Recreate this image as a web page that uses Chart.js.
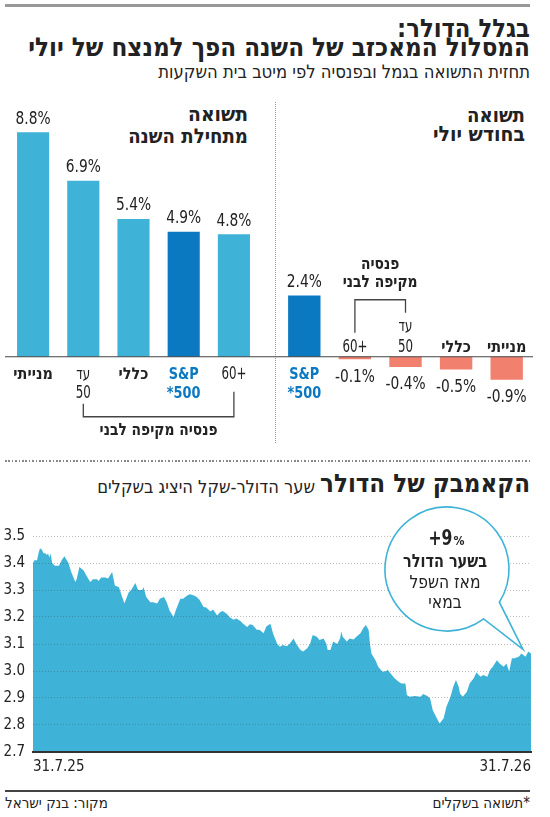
<!DOCTYPE html>
<html lang="he">
<head>
<meta charset="UTF-8">
<script src="https://cdn.jsdelivr.net/npm/chart.js"></script>
<title>בגלל הדולר</title>
<style>
  body { margin: 0; width: 550px; height: 817px; position: relative; overflow: hidden; background: #fff; color: #222;
         font-family: "DejaVu Sans Condensed", "DejaVu Sans", sans-serif; }
  .t { position: absolute; direction: rtl; white-space: nowrap; line-height: 1; }
  .b { font-weight: bold; }
  .rule { position: absolute; }
  canvas { position: absolute; }
</style>
</head>
<body>
  <div class="rule" style="left:5px; top:4px; width:525px; height:2.5px; background:#999"></div>
  <div class="t b" style="right:20px; font-size:26px" data-w="133" data-base="37">בגלל הדולר:</div>
  <div class="t b" style="right:20px; font-size:26px" data-w="502" data-base="57">המסלול המאכזב של השנה הפך למנצח של יולי</div>
  <div class="t" style="right:20px; font-size:18px" data-w="372" data-base="78">תחזית התשואה בגמל ובפנסיה לפי מיטב בית השקעות</div>

  <div class="t b" style="right:302px; font-size:18px" data-w="60" data-base="122">תשואה</div>
  <div class="t b" style="right:302px; font-size:18px" data-w="120" data-base="143">מתחילת השנה</div>
  <div class="t b" style="right:25px; font-size:18px" data-w="58" data-base="122">תשואה</div>
  <div class="t b" style="right:25px; font-size:18px" data-w="92" data-base="142">בחודש יולי</div>
  <div class="rule" style="left:275px; top:102px; width:1px; height:341px; background:repeating-linear-gradient(to bottom, #999 0 1px, transparent 1px 2px)"></div>

  <canvas id="ytd" width="272" height="357" style="left:5px; top:89px"></canvas>
  <canvas id="july" width="256" height="357" style="left:277px; top:89px"></canvas>

  <div class="rule" style="left:5px; top:460px; width:525px; height:2px; background:repeating-linear-gradient(to right, #888 0 1.6px, transparent 1.6px 3.4px)"></div>
  <div class="t b" style="right:20px; font-size:25px" data-w="210" data-base="493">הקאמבק של הדולר</div>
  <div class="t" style="right:235px; font-size:18px" data-w="218" data-base="493">שער הדולר-שקל היציג בשקלים</div>

  <canvas id="usd" width="545" height="290" style="left:0; top:500px"></canvas>

  <div class="rule" style="left:5px; top:790px; width:525px; height:1.5px; background:#444"></div>
  <div class="t" style="right:20px; font-size:15px" data-base="809">*תשואה בשקלים</div>
  <div class="t" style="left:5px; font-size:15px" data-base="809">מקור: בנק ישראל</div>

<script>
  const ytdCats = [['מנייתי'], ['עד', '50'], ['כללי'], ['S&P', '*500'], ['60+']];
  const ytdValues = [8.8, 6.9, 5.4, 4.9, 4.8];

  const julyCats = [['S&P', '*500'], ['60+'], ['עד', '50'], ['כללי'], ['מנייתי']];
  const julyValues = [2.4, -0.1, -0.4, -0.5, -0.9];

  const boldCats = ['מנייתי', 'כללי', 'S&P'];
  const bracketText = ['פנסיה', 'מקיפה לבני'];

  // שער הדולר-שקל, ימים מ-31.7.25
  const days = [
    0, 1, 3, 4, 5, 6, 8, 9, 10, 11,
    12, 13, 14, 16, 19, 20, 21, 23, 26, 28,
    31, 32, 34, 37, 39, 42, 44, 47, 48, 50,
    53, 55, 58, 60, 63, 65, 67, 70, 72, 75,
    77, 80, 81, 83, 86, 88, 91, 93, 96, 98,
    100, 103, 105, 108, 110, 113, 115, 118, 120, 122,
    125, 127, 130, 132, 135, 137, 139, 142, 144, 147,
    149, 152, 154, 157, 159, 161, 164, 166, 169, 171,
    174, 176, 179, 181, 183, 186, 188, 191, 193, 196,
    198, 201, 203, 205, 208, 210, 213, 215, 216, 218,
    220, 223, 225, 226, 227, 230, 232, 235, 237, 240,
    242, 244, 246, 247, 248, 251, 253, 256, 258, 260,
    263, 265, 268, 270, 273, 274, 276, 280, 284, 286,
    289, 291, 293, 296, 298, 301, 303, 306, 308, 310,
    312, 313, 315, 318, 320, 323, 325, 328, 330, 333,
    335, 337, 340, 342, 345, 347, 349, 351, 353, 356,
    358, 361, 363, 365
  ];
  const rates = [
    3.40, 3.41, 3.41, 3.435, 3.453, 3.453, 3.435, 3.437, 3.43, 3.435,
    3.42, 3.435, 3.40, 3.39, 3.39, 3.40, 3.41, 3.425, 3.40, 3.367,
    3.33, 3.34, 3.385, 3.373, 3.355, 3.33, 3.34, 3.34, 3.333, 3.346,
    3.346, 3.343, 3.367, 3.317, 3.31, 3.28, 3.25, 3.29, 3.30, 3.326,
    3.30, 3.30, 3.31, 3.274, 3.255, 3.255, 3.25, 3.268, 3.274, 3.255,
    3.225, 3.20, 3.23, 3.268, 3.268, 3.28, 3.284, 3.28, 3.274, 3.264,
    3.237, 3.235, 3.22, 3.228, 3.206, 3.218, 3.222, 3.212, 3.20, 3.19,
    3.194, 3.185, 3.175, 3.163, 3.173, 3.17, 3.153, 3.153, 3.14, 3.165,
    3.175, 3.138, 3.10, 3.09, 3.096, 3.092, 3.10, 3.12, 3.10, 3.078,
    3.072, 3.084, 3.10, 3.133, 3.127, 3.115, 3.12, 3.10, 3.078, 3.078,
    3.109, 3.10, 3.12, 3.146, 3.127, 3.109, 3.12, 3.117, 3.127, 3.14,
    3.158, 3.17, 3.152, 3.10, 3.065, 3.04, 3.016, 2.998, 2.998, 3.004,
    2.985, 2.973, 2.96, 2.954, 2.954, 2.911, 2.905, 2.907, 2.905, 2.915,
    2.907, 2.899, 2.855, 2.825, 2.806, 2.825, 2.868, 2.905, 2.942, 2.967,
    2.942, 2.917, 2.905, 2.923, 2.954, 2.973, 2.994, 2.979, 2.985, 2.979,
    3.004, 3.016, 3.04, 3.028, 3.016, 3.028, 2.998, 3.047, 3.047, 3.053,
    3.065, 3.053, 3.072, 3.065
  ];
  const dateLabels = ['31.7.25', '31.7.26'];
  const rateTicks = { min: 2.7, max: 3.5, step: 0.1 };

  const bubbleHead = ['+9', '%'];
  const bubbleLines = ['בשער הדולר', 'מאז השפל', 'במאי'];

  const FONT = '"DejaVu Sans Condensed", "DejaVu Sans", sans-serif';
  const LIGHT = '#3fb2d8';
  const DARK = '#0a79c2';
  const NEG = '#f1806e';
  const AREA = '#3eb2d7';
  const INK = '#222';

  // fit html headings to the widths measured on the original
  document.querySelectorAll('.t').forEach(el => {
    let fs = parseFloat(getComputedStyle(el).fontSize);
    if (el.dataset.w) {
      fs = fs * el.dataset.w / el.getBoundingClientRect().width;
      el.style.fontSize = fs + 'px';
    }
    el.style.top = (el.dataset.base - 0.846 * fs) + 'px';
  });

  // a font plus the horizontal squeeze that brings `text` down to `w` px
  function face(ctx, weight, size, text, w) {
    const font = weight + ' ' + size + 'px ' + FONT;
    ctx.font = font;
    return { font, sx: Math.min(1, w / ctx.measureText(text).width) };
  }

  function put(ctx, f, t, x, y) {
    ctx.save();
    ctx.font = f.font;
    ctx.translate(x, y);
    ctx.scale(f.sx, 1);
    ctx.fillText(t, 0, 0);
    ctx.restore();
  }

  function barColors(cats, values) {
    return values.map((v, i) => cats[i][0] === 'S&P' ? DARK : (v < 0 ? NEG : LIGHT));
  }

  const barLabels = {
    id: 'barLabels',
    afterDatasetsDraw(chart, args, opts) {
      const { ctx, scales: { x, y } } = chart;
      const values = chart.data.datasets[0].data;
      const cats = chart.data.labels;
      const zero = y.getPixelForValue(0);
      ctx.save();
      ctx.direction = 'ltr';
      const fValue = face(ctx, '', 17, '8.8%', 35);
      const fReg = face(ctx, '', 17, '60+', 25);
      const fSp = face(ctx, 'bold', 16, 'S&P', 30);
      ctx.direction = 'rtl';
      const fBold = face(ctx, 'bold', 16, 'מנייתי', 40);
      const fBracket = face(ctx, 'bold', 17, 'פנסיה מקיפה לבני', 118);

      ctx.strokeStyle = '#444';
      ctx.lineWidth = 1.2;
      ctx.beginPath();
      ctx.moveTo(0, zero);
      ctx.lineTo(chart.width, zero);
      ctx.stroke();

      ctx.textAlign = 'center';
      ctx.textBaseline = 'middle';
      values.forEach((v, i) => {
        const cx = x.getPixelForValue(i);
        const end = y.getPixelForValue(v);
        ctx.direction = 'ltr';
        ctx.fillStyle = INK;
        put(ctx, fValue, v.toFixed(1) + '%', cx, v >= 0 ? end - 13 : end + 18);

        const lines = cats[i];
        const sp = lines[0] === 'S&P';
        const f = sp ? fSp : (boldCats.includes(lines[0]) ? fBold : fReg);
        ctx.fillStyle = sp ? DARK : INK;
        lines.forEach((t, j) => {
          ctx.direction = /[\u0590-\u05FF]/.test(t) ? 'rtl' : 'ltr';
          const ty = v >= 0 ? zero + 18 + j * 19 : zero - 9 - (lines.length - 1 - j) * 21;
          put(ctx, f, t, cx, ty);
        });
      });

      const b = opts.bracket;
      if (b) {
        const x0 = x.getPixelForValue(b.from);
        const x1 = x.getPixelForValue(b.to);
        ctx.strokeStyle = '#444';
        ctx.lineWidth = 1.3;
        ctx.beginPath();
        ctx.moveTo(x0, zero + b.fromY);
        ctx.lineTo(x0, zero + b.barY);
        ctx.lineTo(x1, zero + b.barY);
        ctx.lineTo(x1, zero + b.toY);
        ctx.stroke();
        ctx.direction = 'rtl';
        ctx.fillStyle = INK;
        b.lines.forEach((t, j) => put(ctx, fBracket, t, (x0 + x1) / 2, zero + b.textY[j]));
      }
      ctx.restore();
    }
  };

  function barChart(id, cats, values, pad, bracket) {
    return new Chart(document.getElementById(id), {
      type: 'bar',
      data: {
        labels: cats,
        datasets: [{
          data: values,
          backgroundColor: barColors(cats, values),
          categoryPercentage: 1,
          barPercentage: 0.64
        }]
      },
      options: {
        responsive: false,
        animation: false,
        layout: { padding: pad },
        scales: {
          x: { display: false },
          y: { display: false, min: -3.5, max: 10.5 }
        },
        plugins: {
          legend: { display: false },
          tooltip: { enabled: false },
          barLabels: { bracket: bracket }
        }
      },
      plugins: [barLabels]
    });
  }

  barChart('ytd', ytdCats, ytdValues, { left: 3, right: 18, top: 0, bottom: 0 },
    { from: 1, to: 4, fromY: 47, toY: 35, barY: 60, lines: [bracketText.join(' ')], textY: [74] });
  barChart('july', julyCats, julyValues, { left: 2, right: 1, top: 0, bottom: 0 },
    { from: 1, to: 2, fromY: -24, toY: -44, barY: -57, lines: bracketText, textY: [-92, -74] });

  const bubble = {
    id: 'bubble',
    afterDraw(chart) {
      const { ctx, chartArea: a, scales: { x, y } } = chart;
      const n = days.length - 1;
      const tipX = x.getPixelForValue(days[n]) - 8;
      const tipY = y.getPixelForValue(rates[n]) - 4;
      const cx = a.right - 84, cy = a.top + 33, r = 62;
      const a1 = 53.7 * Math.PI / 180, a2 = 32.4 * Math.PI / 180;
      ctx.save();
      ctx.beginPath();
      ctx.moveTo(tipX, tipY);
      ctx.lineTo(cx + r * Math.cos(a1), cy + r * Math.sin(a1));
      ctx.arc(cx, cy, r, a1, a2);
      ctx.closePath();
      ctx.fillStyle = '#fff';
      ctx.fill();
      ctx.strokeStyle = AREA;
      ctx.lineWidth = 1.6;
      ctx.stroke();

      ctx.fillStyle = INK;
      ctx.textBaseline = 'alphabetic';
      ctx.direction = 'ltr';
      ctx.textAlign = 'left';
      const fHead = face(ctx, 'bold', 21, bubbleHead[0], 24);
      const fPct = face(ctx, 'bold', 13, bubbleHead[1], 11);
      ctx.font = fHead.font;
      const w1 = ctx.measureText(bubbleHead[0]).width * fHead.sx;
      const sx = cx - 1 - (w1 + 11) / 2;
      put(ctx, fHead, bubbleHead[0], sx, cy - 24);
      put(ctx, fPct, bubbleHead[1], sx + w1 + 1, cy - 24);

      ctx.direction = 'rtl';
      ctx.textAlign = 'center';
      const fLine = [face(ctx, 'bold', 18, bubbleLines[0], 84), face(ctx, '', 18, bubbleLines[1], 71)];
      bubbleLines.forEach((t, j) => put(ctx, fLine[j === 0 ? 0 : 1], t, cx - 2, cy - 2 + j * 20.5));
      ctx.restore();
    }
  };

  new Chart(document.getElementById('usd'), {
    type: 'line',
    data: {
      datasets: [{
        data: days.map((d, i) => ({ x: d, y: rates[i] })),
        fill: 'start',
        backgroundColor: AREA,
        borderWidth: 0,
        pointRadius: 0,
        tension: 0
      }]
    },
    options: {
      responsive: false,
      animation: false,
      layout: { padding: { top: 36, right: 14, left: 0, bottom: 0 } },
      scales: {
        x: {
          type: 'linear',
          min: days[0],
          max: days[days.length - 1],
          afterBuildTicks: axis => { axis.ticks = [{ value: days[0] }, { value: days[days.length - 1] }]; },
          afterFit: axis => { axis.height = 38; },
          grid: { display: false, drawTicks: false },
          border: { display: true, color: '#333', width: 2, z: 1 },
          ticks: {
            align: 'inner',
            padding: 6,
            maxRotation: 0,
            color: INK,
            font: { family: FONT, size: 15 },
            callback: (v, i) => dateLabels[i]
          }
        },
        y: {
          min: rateTicks.min,
          max: rateTicks.max,
          afterFit: axis => { axis.width = 33; },
          grid: {
            z: 1,
            drawTicks: false,
            color: c => c.tick.value < rateTicks.min + 0.05 ? 'rgba(0,0,0,0)' : 'rgba(70,70,70,0.35)'
          },
          border: { display: false, dash: [1, 2] },
          ticks: {
            stepSize: rateTicks.step,
            padding: 8,
            color: INK,
            font: { family: FONT, size: 15 },
            callback: v => v.toFixed(1)
          }
        }
      },
      plugins: {
        legend: { display: false },
        tooltip: { enabled: false }
      }
    },
    plugins: [bubble]
  });
</script>
</body>
</html>
